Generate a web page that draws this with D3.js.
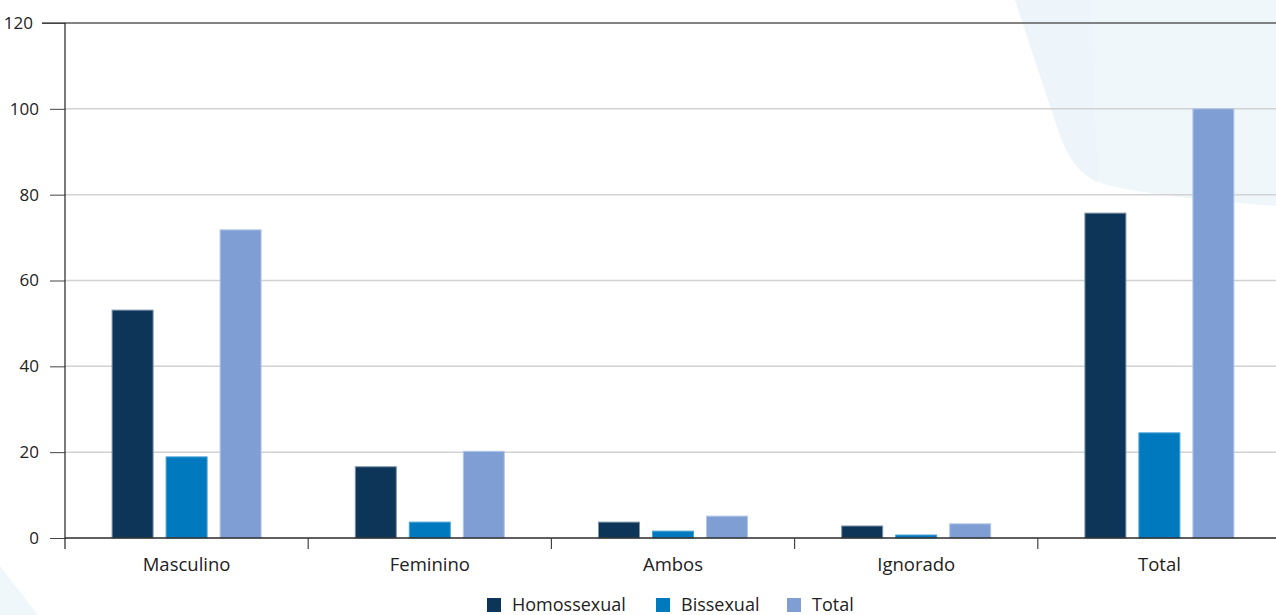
<!DOCTYPE html>
<html>
<head>
<meta charset="utf-8">
<script src="https://cdn.jsdelivr.net/npm/d3@7"></script>
<style>
html,body{margin:0;padding:0;background:#fff;}
svg{display:block;font-family:"Open Sans","Noto Sans",sans-serif;}
</style>
</head>
<body>
<svg id="chart" width="1276" height="615"></svg>
<script>
const categories = ["Masculino", "Feminino", "Ambos", "Ignorado", "Total"];
const seriesNames = ["Homossexual", "Bissexual", "Total"];
const homossexual = [53.1, 16.6, 3.7, 2.8, 75.7];
const bissexual = [18.9, 3.7, 1.6, 0.7, 24.5];
const total = [71.8, 20.2, 5.1, 3.3, 100];
const yTicks = [0, 20, 40, 60, 80, 100, 120];
const colors = ["#0d3558", "#0079bf", "#7f9fd4"];
const strokes = ["#7d93aa", "#4aa3d6", "#b4c7e8"];

(function () {
const seriesValues = [homossexual, bissexual, total];
const svg = d3.select("#chart");
const W = 1276, H = 615;

// decorative background shapes
svg.append("path")
  .attr("d", "M1015,0 L1058,130 Q1072,172 1098,182 Q1140,196 1276,206 L1276,0 Z")
  .attr("fill", "#eff7fa");
svg.append("path")
  .attr("d", "M1015,0 L1058,130 Q1072,172 1098,182 L1090,0 Z")
  .attr("fill", "#eef5fa");
svg.append("path")
  .attr("d", "M0,566 L38,615 L0,615 Z")
  .attr("fill", "#eff7fa");

const mLeft = 65, mTop = 23, mBottom = 538;
const step = 243.2;
const x0 = d3.scaleBand().domain(categories).range([mLeft, mLeft + step * categories.length]);
const x1 = d3.scaleBand().domain(seriesNames).range([0, x0.bandwidth()]).paddingInner(0.222).paddingOuter(0.863);
const y = d3.scaleLinear().domain([0, 120]).range([mBottom, mTop]);

// gridlines
svg.append("g").selectAll("line").data(yTicks.filter(d => d > 0 && d < 120)).join("line")
  .attr("x1", mLeft).attr("x2", W)
  .attr("y1", d => y(d)).attr("y2", d => y(d))
  .attr("stroke", "#d2d2d2").attr("stroke-width", 1.5);

// top border line
svg.append("line").attr("x1", 42).attr("x2", W).attr("y1", y(120)).attr("y2", y(120))
  .attr("stroke", "#5a5a5a").attr("stroke-width", 1.6);

// y axis
const yAxis = d3.axisLeft(y).tickValues(yTicks).tickSize(15).tickPadding(11).tickFormat(d3.format("d"));
const gy = svg.append("g").attr("transform", `translate(${mLeft},0)`).call(yAxis);
gy.select(".domain").remove();
gy.selectAll(".tick line").attr("stroke", "#444").attr("stroke-width", 1);
gy.selectAll(".tick text").attr("fill", "#222").style("font-size", "17px").style("font-family", "'Open Sans',sans-serif");
const t120 = gy.selectAll(".tick").filter(d => d === 120);
t120.select("line").attr("x2", -23);
t120.select("text").attr("x", -32);
svg.append("line").attr("x1", mLeft).attr("x2", mLeft).attr("y1", mTop).attr("y2", mBottom + 11)
  .attr("stroke", "#222").attr("stroke-width", 1.2);

// bars
const groups = svg.append("g").selectAll("g").data(categories).join("g")
  .attr("transform", d => `translate(${x0(d)},0)`);
groups.selectAll("rect").data((c, i) => seriesNames.map((s, j) => ({s, j, v: seriesValues[j][i]}))).join("rect")
  .attr("x", d => x1(d.s) + 0.5)
  .attr("width", x1.bandwidth() - 1)
  .attr("y", d => y(d.v))
  .attr("height", d => mBottom - y(d.v))
  .attr("fill", d => colors[d.j])
  .attr("stroke", d => strokes[d.j])
  .attr("stroke-width", 1);

// x axis
const xAxis = d3.axisBottom(x0).tickSize(0).tickPadding(20);
const gx = svg.append("g").attr("transform", `translate(0,${mBottom})`).call(xAxis);
gx.select(".domain").remove();
gx.selectAll(".tick text").attr("fill", "#222").style("font-size", "18.5px").style("font-family", "'Open Sans',sans-serif");
svg.append("line").attr("x1", mLeft).attr("x2", W).attr("y1", mBottom).attr("y2", mBottom)
  .attr("stroke", "#2a2a2a").attr("stroke-width", 1.6);
svg.append("g").selectAll("line").data(categories.slice(1)).join("line")
  .attr("x1", d => x0(d)).attr("x2", d => x0(d))
  .attr("y1", mBottom).attr("y2", mBottom + 11)
  .attr("stroke", "#444").attr("stroke-width", 1.2);

// legend
const legendX = [487, 656, 787];
const lg = svg.append("g").selectAll("g").data(seriesNames).join("g")
  .attr("transform", (d, i) => `translate(${legendX[i]},598)`);
lg.append("rect").attr("width", 14).attr("height", 14).attr("fill", (d, i) => colors[i]);
lg.append("text").attr("x", 25).attr("y", 13).text(d => d)
  .attr("fill", "#222").style("font-size", "18px").style("font-family", "'Open Sans',sans-serif");
})();
</script>
</body>
</html>
